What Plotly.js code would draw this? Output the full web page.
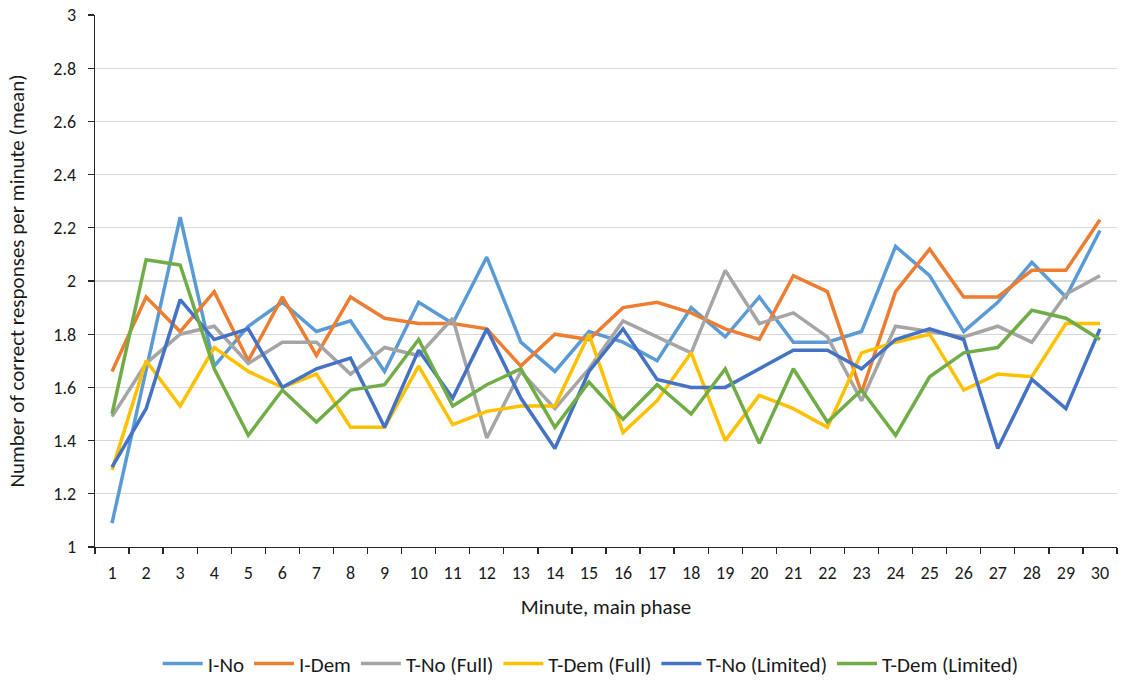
<!DOCTYPE html>
<html>
<head>
<meta charset="utf-8">
<script src="https://cdn.plot.ly/plotly-3.0.1.min.js"></script>
<style>html,body{margin:0;padding:0;background:#fff;}#chart{width:1123px;height:683px;}</style>
</head>
<body>
<div id="chart"></div>
<script>
const minutes = ["1","2","3","4","5","6","7","8","9","10","11","12","13","14","15","16","17","18","19","20","21","22","23","24","25","26","27","28","29","30"];
const iNo = [1.09,1.67,2.24,1.68,1.83,1.92,1.81,1.85,1.66,1.92,1.84,2.09,1.77,1.66,1.81,1.77,1.70,1.90,1.79,1.94,1.77,1.77,1.81,2.13,2.02,1.81,1.92,2.07,1.94,2.19];
const iDem = [1.66,1.94,1.81,1.96,1.70,1.94,1.72,1.94,1.86,1.84,1.84,1.82,1.68,1.80,1.78,1.90,1.92,1.88,1.82,1.78,2.02,1.96,1.58,1.96,2.12,1.94,1.94,2.04,2.04,2.23];
const tNoFull = [1.49,1.69,1.80,1.83,1.69,1.77,1.77,1.65,1.75,1.72,1.86,1.41,1.66,1.52,1.67,1.85,1.79,1.73,2.04,1.84,1.88,1.79,1.55,1.83,1.81,1.79,1.83,1.77,1.95,2.02];
const tDemFull = [1.29,1.70,1.53,1.75,1.66,1.60,1.65,1.45,1.45,1.68,1.46,1.51,1.53,1.53,1.80,1.43,1.55,1.73,1.40,1.57,1.52,1.45,1.73,1.77,1.80,1.59,1.65,1.64,1.84,1.84];
const tNoLim = [1.30,1.52,1.93,1.78,1.82,1.60,1.67,1.71,1.45,1.74,1.56,1.82,1.56,1.37,1.66,1.82,1.63,1.60,1.60,1.67,1.74,1.74,1.67,1.78,1.82,1.78,1.37,1.63,1.52,1.82];
const tDemLim = [1.50,2.08,2.06,1.67,1.42,1.59,1.47,1.59,1.61,1.78,1.53,1.61,1.67,1.45,1.62,1.48,1.61,1.50,1.67,1.39,1.67,1.47,1.59,1.42,1.64,1.73,1.75,1.89,1.86,1.78];
const seriesNames = ["I-No","I-Dem","T-No (Full)","T-Dem (Full)","T-No (Limited)","T-Dem (Limited)"];
const seriesColors = ["#5B9BD5","#ED7D31","#A5A5A5","#FFC000","#4472C4","#70AD47"];
const seriesData = [iNo,iDem,tNoFull,tDemFull,tNoLim,tDemLim];

const traces = seriesData.map((d,i)=>({
  type:"scatter", mode:"lines", x:minutes, y:d, name:seriesNames[i],
  line:{color:seriesColors[i], width:3.5, shape:"linear"}
}));

const fam = "Carlito, Calibri, 'Open Sans', sans-serif";
const txt = "#1a1a1a";

const layout = {
  width:1123, height:683,
  margin:{l:95, r:6, t:15, b:136, autoexpand:false},
  paper_bgcolor:"#fff", plot_bgcolor:"#fff",
  font:{family:fam, size:18, color:txt},
  showlegend:true,
  legend:{orientation:"h", x:0.485, xanchor:"center", xref:"paper", yref:"container", y:0.028, yanchor:"middle",
          font:{family:fam, size:21, color:txt}, itemwidth:40, traceorder:"normal"},
  xaxis:{
    type:"category", range:[-0.5,29.5], showgrid:false, showline:true, linecolor:"#262626", linewidth:1.3,
    ticks:"outside", tickson:"boundaries", ticklen:6, tickcolor:"#262626", tickwidth:1.3, automargin:false,
    tickfont:{family:fam, size:18, color:txt}, ticklabelstandoff:9,
    title:{text:"Minute, main phase", font:{family:fam, size:21, color:txt}, standoff:16}
  },
  yaxis:{
    range:[1,3], dtick:0.2, tick0:1, showgrid:true, gridcolor:"#D9D9D9", gridwidth:1.3, automargin:true,
    showline:true, linecolor:"#262626", linewidth:1.3, ticks:"outside", ticklen:6, tickcolor:"#262626", tickwidth:1.3,
    zeroline:false, tickformat:"~g", ticklabelstandoff:8,
    tickfont:{family:fam, size:18, color:txt},
    title:{text:"Number of correct responses per minute (mean)", font:{family:fam, size:21, color:txt}, standoff:23}
  }
};
Plotly.newPlot("chart", traces, layout, {displayModeBar:false, staticPlot:true});
</script>
</body>
</html>
